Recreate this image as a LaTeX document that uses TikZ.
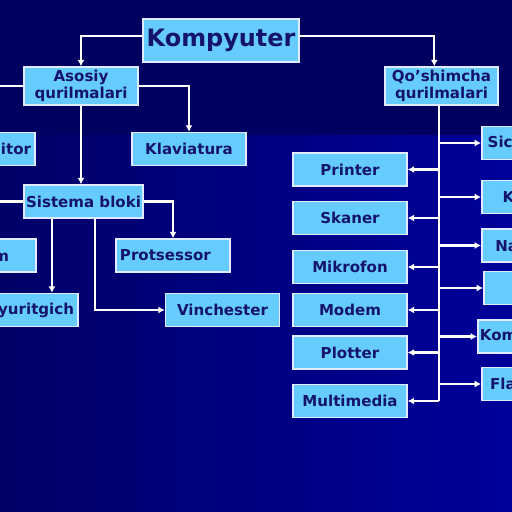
\documentclass[tikz,border=0pt]{standalone}
\usepackage{fontspec}
\setmainfont{DejaVu Sans}
\usetikzlibrary{arrows.meta,positioning}
\definecolor{navytop}{RGB}{0,0,96}
\definecolor{navyleft}{RGB}{0,0,104}
\definecolor{navyright}{RGB}{0,0,155}
\definecolor{boxblue}{RGB}{102,204,255}
\definecolor{boxline}{RGB}{225,235,255}
\definecolor{labelnavy}{RGB}{20,20,108}

\begin{document}
\begin{tikzpicture}[
    x=0.025cm, y=-0.025cm,
    every node/.style={font=\bfseries\fontsize{10.7}{12.5}\selectfont, text=labelnavy},
    unit/.style={draw=boxline, fill=boxblue, line width=1.1pt, minimum width=2.85cm, minimum height=0.825cm, inner sep=1pt},
    link/.style={draw=white, line width=1.6pt},
    arr/.style={link, -{Latex[length=4.5pt,width=5pt]}}
]
    \useasboundingbox (0,0) rectangle (512,512);
    \begin{scope}
    \clip (0,0) rectangle (512,512);
    \fill[navytop] (0,0) rectangle (512,135);
    \shade[left color=navyleft, right color=navyright] (0,135) rectangle (512,512);

    % top level
    \node[unit, font=\bfseries\fontsize{17}{20}\selectfont, minimum width=3.9cm, minimum height=1.075cm] (komp) at (221,40.5) {Kompyuter};
    \node[unit, minimum height=0.95cm, align=center] (asosiy) at (81,86) {Asosiy\\qurilmalari};
    \node[unit, minimum width=2.825cm, minimum height=0.95cm, align=center] (qoshim) at (441.5,86) {Qo’shimcha\\qurilmalari};

    % asosiy qurilmalari
    \node[unit, minimum width=0cm, inner xsep=3pt, anchor=east] (monitor) at (36,149) {Monitor};
    \node[unit] (klav) at (189,149) {Klaviatura};
    \node[unit, minimum width=2.975cm] (sistema) at (83.5,201.5) {Sistema bloki};
    \node[unit, minimum width=2.475cm] (tizim) at (-13.5,255.5) {Tizim};
    \node[unit, text width=2.65cm, inner xsep=2.8pt, align=left] (protses) at (173,255.5) {Protsessor};
    \node[unit, minimum width=0cm, inner xsep=3pt, anchor=east] (disk) at (79,310) {Disk yuritgich};
    \node[unit] (vinch) at (222.5,310) {Vinchester};

    % qo'shimcha qurilmalari
    \node[unit] (printer) at (350,169.5) {Printer};
    \node[unit] (skaner) at (350,218) {Skaner};
    \node[unit] (mikrofon) at (350,267) {Mikrofon};
    \node[unit] (modem) at (350,310) {Modem};
    \node[unit] (plotter) at (350,352.5) {Plotter};
    \node[unit] (multi) at (350,401) {Multimedia};

    \node[unit, minimum width=2.725cm, anchor=west] (sich) at (481,143) {Sichqoncha};
    \node[unit, minimum width=2.75cm, anchor=west] (kolonka) at (481,197) {Kolonka};
    \node[unit, minimum width=2.65cm, anchor=west] (naushnik) at (481,245.5) {Naushnik};
    \node[unit, anchor=west] (joy) at (483,288) {};
    \node[unit, minimum width=3cm, anchor=west] (kompakt) at (477,336.5) {Kompakt disk};
    \node[unit, minimum width=2.925cm, anchor=west] (flash) at (481,384) {Flash xotira};

    % connectors
    \coordinate (offA) at (-20,86);
    \coordinate (offS) at (-20,201.5);
    \draw[arr] ([yshift=0.11cm]komp.west) -| (asosiy.north);
    \draw[arr] ([yshift=0.11cm]komp.east) -| ([xshift=-0.18cm]qoshim.north);
    \draw[link] (asosiy.west) -- (offA);
    \draw[arr] (asosiy.east) -| (klav.north);
    \draw[arr] (asosiy.south) -- (asosiy.south |- sistema.north);
    \draw[link] (sistema.west) -- (offS);
    \draw[arr] (sistema.east) -| (protses.north);
    \draw[arr] ([xshift=-0.79cm]sistema.south) -- ([xshift=-0.79cm]sistema.south |- disk.north);
    \draw[arr] ([xshift=0.29cm]sistema.south) |- (vinch.west);

    \coordinate (trunk) at ([xshift=-0.06cm]qoshim.south);
    \draw[link] (trunk) -- (trunk |- multi.east);
    \foreach \dev in {printer,skaner,mikrofon,modem,plotter,multi}
        \draw[arr] (trunk |- \dev.east) -- (\dev.east);
    \foreach \dev in {sich,kolonka,naushnik,joy,kompakt,flash}
        \draw[arr] (trunk |- \dev.west) -- (\dev.west);
    \end{scope}
\end{tikzpicture}
\end{document}
